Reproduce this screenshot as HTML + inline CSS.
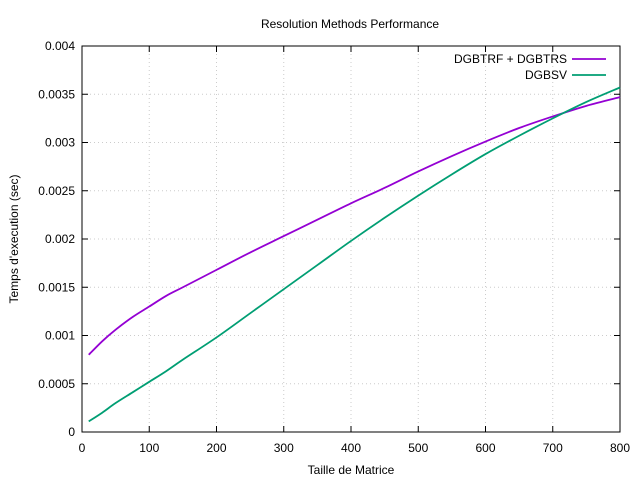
<!DOCTYPE html>
<html><head><meta charset="utf-8"><style>
html,body{margin:0;padding:0;background:#fff;}
svg{display:block;font-family:"Liberation Sans",sans-serif;}
</style></head><body>
<svg id="chart" width="640" height="480"></svg>
<script>
const xTicks=[0,100,200,300,400,500,600,700,800];
const yTicks=[0,0.0005,0.001,0.0015,0.002,0.0025,0.003,0.0035,0.004];
const yTickLabels=["0","0.0005","0.001","0.0015","0.002","0.0025","0.003","0.0035","0.004"];
const sizes=[10,30,50,75,100,125,150,200,250,300,350,400,450,500,550,600,650,700,750,800];
const dgbtrf=[0.0008,0.00094,0.00106,0.00119,0.0013,0.00141,0.0015,0.00168,0.00186,0.00203,0.0022,0.00237,0.00253,0.0027,0.00286,0.00301,0.00315,0.00327,0.00338,0.00347];
const dgbsv=[0.00011,0.0002,0.0003,0.00041,0.00052,0.00063,0.00075,0.00098,0.00123,0.00148,0.00173,0.00198,0.00222,0.00245,0.00267,0.00288,0.00307,0.00325,0.00342,0.00357];
const seriesNames=["DGBTRF + DGBTRS","DGBSV"];
const colors=["#9400d3","#009e73"];
const L=82,R=620,T=46,B=432;
const sx=v=>L+(v-0)/(800-0)*(R-L);
const sy=v=>B-(v/0.004)*(B-T);
const svg=document.getElementById('chart');
const NS="http://www.w3.org/2000/svg";
function mk(tag,attrs,parent){const e=document.createElementNS(NS,tag);for(const k in attrs)e.setAttribute(k,attrs[k]);(parent||svg).appendChild(e);return e;}
xTicks.forEach(t=>{if(t>0&&t<800){const g=mk('line',{x1:sx(t),x2:sx(t),y1:T,y2:B,stroke:'#ccc','stroke-dasharray':'1,3','stroke-width':1});

}});
yTicks.forEach(t=>{if(t>0&&t<0.004){const g=mk('line',{x1:L,x2:R,y1:sy(t),y2:sy(t),stroke:'#ccc','stroke-dasharray':'1,3','stroke-width':1});

}});
const fr=mk('rect',{x:L,y:T,width:R-L,height:B-T,fill:'none',stroke:'#000','stroke-width':1});


xTicks.forEach(t=>{mk('line',{x1:sx(t),x2:sx(t),y1:B,y2:B-6,stroke:'#000'});mk('line',{x1:sx(t),x2:sx(t),y1:T,y2:T+6,stroke:'#000'});
const tx=mk('text',{x:sx(t),y:452,'text-anchor':'middle','font-size':12});tx.textContent=t;

});
yTicks.forEach((t,i)=>{mk('line',{x1:L,x2:L+6,y1:sy(t),y2:sy(t),stroke:'#000'});mk('line',{x1:R,x2:R-6,y1:sy(t),y2:sy(t),stroke:'#000'});
const tx=mk('text',{x:75,y:sy(t)+4,'text-anchor':'end','font-size':12});tx.textContent=yTickLabels[i];

});
function path(vals){const p=sizes.map((s,i)=>[sx(s),sy(vals[i])]);let d=`M${p[0][0]},${p[0][1]}`;
for(let i=0;i<p.length-1;i++){const p0=p[Math.max(0,i-1)],p1=p[i],p2=p[i+1],p3=p[Math.min(p.length-1,i+2)];
d+=` C${p1[0]+(p2[0]-p0[0])/6},${p1[1]+(p2[1]-p0[1])/6} ${p2[0]-(p3[0]-p1[0])/6},${p2[1]-(p3[1]-p1[1])/6} ${p2[0]},${p2[1]}`;}return d;}
[dgbtrf,dgbsv].forEach((vals,i)=>{const ln=mk('path',{d:path(vals),fill:'none',stroke:colors[i],'stroke-width':1.8});


const y=59+i*16;
const lt=mk('text',{x:567,y:y+4,'text-anchor':'end','font-size':12});lt.textContent=seriesNames[i];


const ll=mk('line',{x1:572,x2:606,y1:y,y2:y,stroke:colors[i],'stroke-width':1.8});

});
const ti=mk('text',{x:350,y:28,'text-anchor':'middle','font-size':12});ti.textContent='Resolution Methods Performance';


const xt=mk('text',{x:351,y:474,'text-anchor':'middle','font-size':12});xt.textContent='Taille de Matrice';


const yt=mk('text',{x:18,y:239,'text-anchor':'middle','font-size':12,transform:'rotate(-90 18 239)'});yt.textContent="Temps d'execution (sec)";


</script>
</body></html>
